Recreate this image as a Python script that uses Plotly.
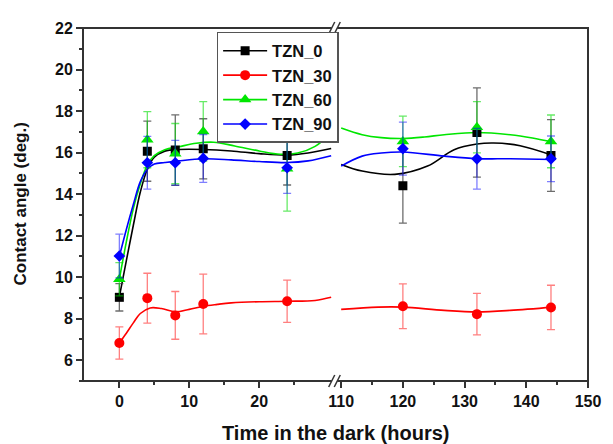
import plotly.graph_objects as go

# ---------------- data ----------------
times = [0, 4, 8, 12, 24, 120, 132, 144]

tzn0 = [9.03, 16.07, 16.12, 16.18, 15.86, 14.40, 16.97, 15.86]
tzn0_err = [0.66, 1.45, 1.70, 1.45, 1.42, 1.80, 2.15, 1.73]

tzn30 = [6.83, 8.99, 8.16, 8.71, 8.84, 8.60, 8.22, 8.54]
tzn30_err = [0.78, 1.20, 1.15, 1.44, 1.02, 1.08, 1.00, 1.07]

tzn60 = [9.90, 16.62, 15.95, 17.02, 15.22, 16.54, 17.22, 16.54]
tzn60_err = [0.80, 1.35, 1.45, 1.43, 2.04, 1.22, 1.23, 1.27]

tzn90 = [11.02, 15.51, 15.51, 15.72, 15.27, 16.19, 15.70, 15.70]
tzn90_err = [1.05, 1.27, 1.08, 1.15, 1.23, 1.28, 1.46, 1.10]

# smooth fitted curves (left and right of the axis break)
tzn0_fit_left_t = [0, 1, 2, 3, 4, 5, 6.5, 8.5, 12, 16, 20, 24, 27, 30.3]
tzn0_fit_left_v = [9.05, 10.8, 12.5, 14.1, 15.2, 15.78, 16.07, 16.15, 16.15, 16.08, 15.95, 15.88, 15.98, 16.2]
tzn0_fit_right_t = [110, 113.4, 118.7, 124, 128.3, 132, 134.7, 139, 144.3]
tzn0_fit_right_v = [15.43, 15.11, 14.95, 15.35, 16.14, 16.41, 16.46, 16.33, 15.86]

tzn30_fit_left_t = [0, 1, 2, 3, 4.4, 6, 8, 10, 12, 14, 16, 20, 24, 28, 30.3]
tzn30_fit_left_v = [6.83, 7.3, 7.8, 8.25, 8.52, 8.49, 8.33, 8.45, 8.6, 8.69, 8.76, 8.82, 8.84, 8.88, 9.03]
tzn30_fit_right_t = [110, 116, 120, 126.7, 132, 137.4, 144.3]
tzn30_fit_right_v = [8.45, 8.56, 8.56, 8.40, 8.33, 8.40, 8.56]

tzn60_fit_left_t = [0, 1, 2, 3, 4, 5, 6.5, 8.5, 11, 13.5, 16.5, 20, 23, 25.5, 28, 30.3]
tzn60_fit_left_v = [9.9, 11.7, 13.3, 14.5, 15.4, 15.85, 16.14, 16.28, 16.45, 16.5, 16.32, 16.08, 15.92, 15.98, 16.3, 16.95]
tzn60_fit_right_t = [110, 113.4, 116.5, 120, 123.5, 126.7, 132, 137.4, 141, 144.3]
tzn60_fit_right_v = [17.18, 16.86, 16.72, 16.68, 16.75, 16.86, 16.97, 16.86, 16.7, 16.5]

tzn90_fit_left_t = [0, 1, 2, 3, 4, 5, 6.5, 8.5, 12, 16, 20, 24, 27, 30.3]
tzn90_fit_left_v = [11.0, 12.3, 13.5, 14.6, 15.2, 15.45, 15.52, 15.6, 15.7, 15.65, 15.57, 15.52, 15.6, 15.85]
tzn90_fit_right_t = [110, 113.4, 116.5, 120, 126.7, 132, 137.4, 144.3]
tzn90_fit_right_v = [15.35, 15.83, 15.98, 16.03, 15.83, 15.71, 15.70, 15.67]

series_names = ["TZN_0", "TZN_30", "TZN_60", "TZN_90"]
left_ticks = [0, 10, 20]
right_ticks = [110, 120, 130, 140, 150]
y_ticks = [6, 8, 10, 12, 14, 16, 18, 20, 22]

# ---------------- styling ----------------
FONT = 'Arial, "Liberation Sans", sans-serif'
colors = ["#000000", "#ff0000", "#00e600", "#0000ff"]
err_colors = ["rgba(60,60,60,0.75)", "rgba(255,0,0,0.5)", "rgba(0,220,0,0.6)", "rgba(0,0,255,0.5)"]
symbols = ["square", "circle", "triangle-up", "diamond"]
sizes = [9, 10, 11, 9]

vals = [tzn0, tzn30, tzn60, tzn90]
errs = [tzn0_err, tzn30_err, tzn60_err, tzn90_err]
fits = [
    (tzn0_fit_left_t, tzn0_fit_left_v, tzn0_fit_right_t, tzn0_fit_right_v),
    (tzn30_fit_left_t, tzn30_fit_left_v, tzn30_fit_right_t, tzn30_fit_right_v),
    (tzn60_fit_left_t, tzn60_fit_left_v, tzn60_fit_right_t, tzn60_fit_right_v),
    (tzn90_fit_left_t, tzn90_fit_left_v, tzn90_fit_right_t, tzn90_fit_right_v),
]

fig = go.Figure()

# fitted curves
for i in range(4):
    lt, lv, rt, rv = fits[i]
    for xs, ys, xa in ((lt, lv, "x"), (rt, rv, "x2")):
        fig.add_trace(go.Scatter(
            x=xs, y=ys, xaxis=xa, yaxis="y", mode="lines",
            line=dict(color=colors[i], width=1.6, shape="spline", smoothing=1.0),
            showlegend=False, hoverinfo="skip"))

# markers with error bars
for i in range(4):
    left_idx = [k for k, t in enumerate(times) if t < 100]
    right_idx = [k for k, t in enumerate(times) if t >= 100]
    for idx, xa in ((left_idx, "x"), (right_idx, "x2")):
        fig.add_trace(go.Scatter(
            x=[times[k] for k in idx], y=[vals[i][k] for k in idx],
            xaxis=xa, yaxis="y", mode="markers",
            marker=dict(symbol=symbols[i], size=sizes[i], color=colors[i], line=dict(width=0)),
            error_y=dict(type="data", array=[errs[i][k] for k in idx], visible=True,
                         color=err_colors[i], thickness=1.3, width=4),
            showlegend=False))

# legend entries (line + marker)
for i in range(4):
    fig.add_trace(go.Scatter(
        x=[None], y=[None], xaxis="x", yaxis="y", mode="lines+markers", name=series_names[i],
        line=dict(color=colors[i], width=1.6),
        marker=dict(symbol=symbols[i], size=sizes[i], color=colors[i])))

tickfont = dict(family=FONT, size=16, color="#111", weight="bold")
axis_common = dict(showgrid=False, zeroline=False, showline=False, ticks="outside",
                   ticklen=6, tickwidth=1.5, tickcolor="#333", tickfont=tickfont)

# the page body has an 8px default margin, so the figure is 8px smaller than the window
fig.update_layout(
    width=605, height=436,
    margin=dict(l=75, r=16, t=15, b=63),
    paper_bgcolor="white", plot_bgcolor="white",
    xaxis=dict(domain=[0, 0.4942], range=[-5.2, 30.5], tickvals=left_ticks, anchor="y",
               minor=dict(tickvals=[5, 15, 25], ticks="outside", ticklen=3, tickcolor="#333", tickwidth=1.5),
               **axis_common),
    xaxis2=dict(domain=[0.5039, 1], range=[109.4, 150], tickvals=right_ticks, anchor="y",
                minor=dict(tickvals=[115, 125, 135, 145], ticks="outside", ticklen=3, tickcolor="#333", tickwidth=1.5),
                **axis_common),
    yaxis=dict(range=[5, 22], tickvals=y_ticks, anchor="x",
               minor=dict(dtick=1, ticks="outside", ticklen=3, tickcolor="#333", tickwidth=1.5),
               **axis_common),
    legend=dict(x=0.2646, y=0.9888, xanchor="left", yanchor="top",
                bgcolor="white", bordercolor="#555", borderwidth=1.5,
                font=dict(family=FONT, size=16.5, color="#111", weight="bold"),
                itemwidth=44, tracegroupgap=0),
    showlegend=True,
)

# frame
fig.add_shape(type="rect", xref="paper", yref="paper", x0=0, x1=1, y0=0, y1=1,
              line=dict(color="#333", width=2), layer="above")

# axis break marks (top and bottom)
for yb in (0, 1):
    fig.add_shape(type="rect", xref="paper", yref="paper", x0=0.4925, x1=0.5035,
                  y0=yb - 0.006, y1=yb + 0.006, line=dict(width=0), fillcolor="white", layer="above")
    for xc in (0.4925, 0.5035):
        fig.add_shape(type="line", xref="paper", yref="paper",
                      x0=xc - 0.006, x1=xc + 0.006, y0=yb - 0.017, y1=yb + 0.017,
                      line=dict(color="#333", width=1.5), layer="above")

# axis titles
fig.add_annotation(text="Contact angle (deg.)", xref="paper", yref="paper", x=0, y=0.5,
                   xshift=-63, textangle=-90, showarrow=False, xanchor="center", yanchor="middle",
                   font=dict(family=FONT, size=17, color="#111", weight="bold"))
fig.add_annotation(text="Time in the dark (hours)", xref="paper", yref="paper", x=0.5, y=0,
                   yshift=-52, showarrow=False, xanchor="center", yanchor="middle",
                   font=dict(family=FONT, size=20, color="#111", weight="bold"))

fig.write_html("out.html")
